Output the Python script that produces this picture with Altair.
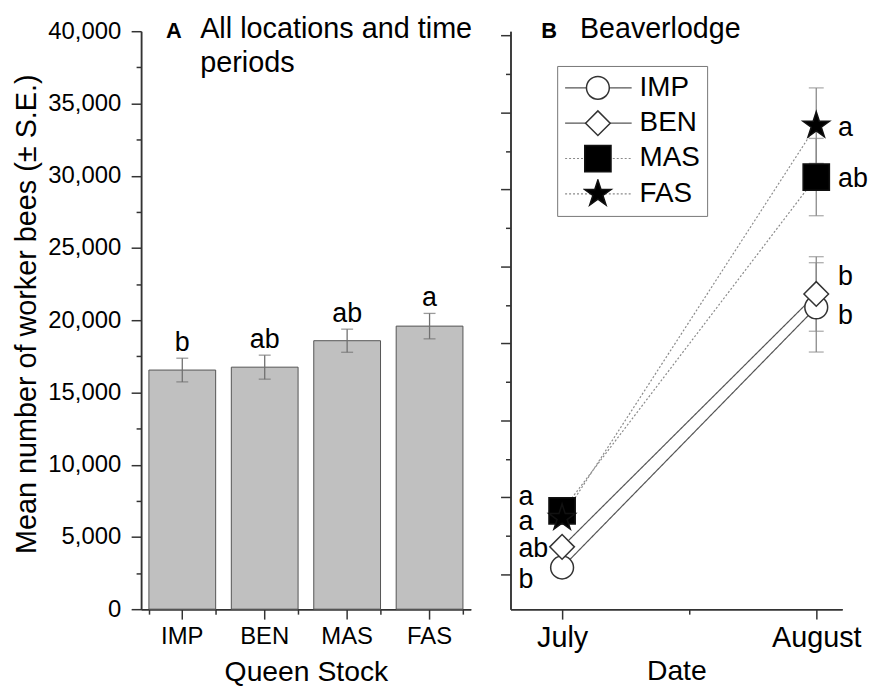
import altair as alt
import pandas as pd

FONT = "Liberation Sans"

stocks = ["IMP", "BEN", "MAS", "FAS"]

# Panel A: all locations and time periods
all_mean = [16550, 16750, 18580, 19590]
all_se = [820, 830, 800, 880]
all_letters = ["b", "ab", "ab", "a"]

# Panel B: Beaverlodge
months = ["July", "August"]
july_mean = [450, 1790, 4130, 3670]
july_se = [300, 300, 300, 300]
july_letters = ["b", "ab", "a", "a"]
aug_mean = [17340, 18210, 25800, 29140]
aug_se = [2900, 2420, 2510, 2450]
aug_letters = ["b", "b", "ab", "a"]

panel_tags = ["A", "B"]
panel_titles = [["All locations and time", "periods"], ["Beaverlodge"]]

yA_major = [0, 5000, 10000, 15000, 20000, 25000, 30000, 35000, 40000]
yA_minor = [2500, 7500, 12500, 17500, 22500, 27500, 32500, 37500]
yB_major = [0, 5000, 10000, 15000, 20000, 25000, 30000, 35000]
yB_minor = [2500, 7500, 12500, 17500, 22500, 27500, 32500]

STAR = ("M0,-1L0.2245,-0.309L0.9511,-0.309L0.3633,0.118L0.5878,0.809L0,0.382"
        "L-0.5878,0.809L-0.3633,0.118L-0.9511,-0.309L-0.2245,-0.309Z")

# ---------- data frames ----------
dfA = pd.DataFrame({"stock": stocks, "mean": all_mean, "se": all_se, "letter": all_letters})
dfA["lo"] = dfA["mean"] - dfA["se"]
dfA["hi"] = dfA["mean"] + dfA["se"]

rows = []
for i, s in enumerate(stocks):
    rows.append({"stock": s, "series": s, "order": i, "month": 1, "mean": july_mean[i],
                 "se": july_se[i], "letter": july_letters[i]})
    rows.append({"stock": s, "series": s, "order": i, "month": 2, "mean": aug_mean[i],
                 "se": aug_se[i], "letter": aug_letters[i]})
dfB = pd.DataFrame(rows)
dfB["lo"] = dfB["mean"] - dfB["se"]
dfB["hi"] = dfB["mean"] + dfB["se"]

axis_style = dict(domainColor="#333333", domainWidth=1.5, tickColor="#333333", tickWidth=1.5,
                  labelColor="black", titleColor="black", labelFont=FONT, titleFont=FONT,
                  titleFontWeight="normal", grid=False)

# ---------- Panel A ----------
sxA = alt.Scale(paddingInner=0.19, paddingOuter=0.095)
syA = alt.Scale(domain=[0, 40000], nice=False, zero=False)

bars = alt.Chart(dfA).mark_bar(color="#c0c0c0", stroke="#555555", strokeWidth=1).encode(
    x=alt.X("stock:N", sort=stocks, scale=sxA,
            axis=alt.Axis(title="Queen Stock", labelAngle=0, tickSize=10, labelFontSize=24,
                          labelPadding=6, titleFontSize=28.5, titlePadding=9, **axis_style)),
    y=alt.Y("mean:Q", scale=syA,
            axis=alt.Axis(title="Mean number of worker bees  (± S.E.)", values=yA_major, format=",.0f",
                          tickSize=10, labelFontSize=24, labelPadding=10.5, titleFontSize=29,
                          titlePadding=6, titleY=284.5, **axis_style)),
)
errA = alt.Chart(dfA).mark_rule(color="#707070", strokeWidth=1.3).encode(
    x=alt.X("stock:N", sort=stocks, scale=sxA,
            axis=alt.Axis(title=None, orient="bottom", tickBand="extent", tickSize=5, labels=False, **axis_style)),
    y=alt.Y("lo:Q", scale=syA,
            axis=alt.Axis(title=None, orient="left", values=yA_minor, tickSize=5, labels=False, **axis_style)),
    y2="hi:Q",
)
capA_hi = alt.Chart(dfA).mark_tick(color="#707070", thickness=1.3, size=12, orient="horizontal").encode(
    x=alt.X("stock:N", sort=stocks, scale=sxA, axis=None),
    y=alt.Y("hi:Q", scale=syA, axis=None),
)
capA_lo = alt.Chart(dfA).mark_tick(color="#707070", thickness=1.3, size=12, orient="horizontal").encode(
    x=alt.X("stock:N", sort=stocks, scale=sxA, axis=None),
    y=alt.Y("lo:Q", scale=syA, axis=None),
)
lettersA = alt.Chart(dfA).mark_text(font=FONT, fontSize=27, baseline="alphabetic", dy=-7, color="black").encode(
    x=alt.X("stock:N", sort=stocks, scale=sxA, axis=None),
    y=alt.Y("hi:Q", scale=syA, axis=None),
    text="letter:N",
)
tagA = alt.Chart(pd.DataFrame({"t": [panel_tags[0]]})).mark_text(
    font=FONT, fontSize=22, fontWeight="bold", align="left", baseline="alphabetic", color="black"
).encode(x=alt.value(25), y=alt.value(7), text="t:N")
titleA = alt.Chart(pd.DataFrame({"t": [0]})).mark_text(
    font=FONT, fontSize=29, align="left", baseline="alphabetic", lineHeight=34, color="black"
).encode(x=alt.value(59.5), y=alt.value(7), text=alt.value(panel_titles[0]))

panelA = alt.layer(bars, errA, capA_hi, capA_lo, lettersA, tagA, titleA).resolve_axis(
    x="independent", y="independent"
).properties(width=332, height=582)

# ---------- Panel B ----------
sxB = alt.Scale(domain=[0.797, 2.102], nice=False, zero=False)
syB = alt.Scale(domain=[-2256, 35270], nice=False, zero=False)
order_sort = alt.EncodingSortField(field="order", op="min")

line_legend = alt.Legend(title=None, orient="none", legendX=47, legendY=35, symbolType="stroke",
                         symbolSize=4489, symbolStrokeWidth=1.2, labelFont=FONT, labelFontSize=28,
                         labelColor="black", labelOffset=7, rowPadding=5.6, padding=7, clipHeight=30,
                         strokeColor="#777777", labelLimit=300)
point_legend = alt.Legend(title=None, orient="none", legendX=66, legendY=35, labelFont=FONT,
                          labelFontSize=28, labelOpacity=0, labelOffset=7, rowPadding=5.6, padding=7,
                          clipHeight=30, symbolStrokeWidth=1.5, symbolOpacity=1, labelLimit=300)

month_expr = f"datum.value == 1 ? '{months[0]}' : datum.value == 2 ? '{months[1]}' : ''"

lines = alt.Chart(dfB).mark_line(strokeWidth=1.2).encode(
    x=alt.X("month:Q", scale=sxB,
            axis=alt.Axis(title="Date", values=[1, 2], labelExpr=month_expr, tickSize=10,
                          labelFontSize=29, labelPadding=5, titleFontSize=28.5, titlePadding=4, **axis_style)),
    y=alt.Y("mean:Q", scale=syB,
            axis=alt.Axis(title=None, values=yB_major, labels=False, tickSize=10, **axis_style)),
    strokeDash=alt.StrokeDash("series:N", sort=order_sort,
                              scale=alt.Scale(range=[[1, 0], [1, 0], [2, 2], [2, 2]]), legend=line_legend),
    color=alt.Color("series:N", sort=order_sort,
                    scale=alt.Scale(range=["#555555", "#555555", "#8a8a8a", "#8a8a8a"]), legend=line_legend),
    order="month:Q",
)
errB = alt.Chart(dfB).mark_rule(color="#8a8a8a", strokeWidth=1.3).encode(
    x=alt.X("month:Q", scale=sxB,
            axis=alt.Axis(title=None, orient="bottom", values=[1.5], tickSize=5, labels=False, **axis_style)),
    y=alt.Y("lo:Q", scale=syB,
            axis=alt.Axis(title=None, orient="left", values=yB_minor, tickSize=5, labels=False, **axis_style)),
    y2="hi:Q",
)
capB_hi = alt.Chart(dfB).mark_tick(color="#8a8a8a", thickness=1.3, size=15, orient="horizontal").encode(
    x=alt.X("month:Q", scale=sxB, axis=None),
    y=alt.Y("hi:Q", scale=syB, axis=None),
)
capB_lo = alt.Chart(dfB).mark_tick(color="#8a8a8a", thickness=1.3, size=15, orient="horizontal").encode(
    x=alt.X("month:Q", scale=sxB, axis=None),
    y=alt.Y("lo:Q", scale=syB, axis=None),
)
points = alt.Chart(dfB).mark_point(filled=True, opacity=1, strokeWidth=1.5).encode(
    x=alt.X("month:Q", scale=sxB, axis=None),
    y=alt.Y("mean:Q", scale=syB, axis=None),
    shape=alt.Shape("stock:N", sort=order_sort,
                    scale=alt.Scale(range=["circle", "diamond", "square", STAR]), legend=point_legend),
    fill=alt.Fill("stock:N", sort=order_sort,
                  scale=alt.Scale(range=["white", "white", "black", "black"]), legend=point_legend),
    stroke=alt.Stroke("stock:N", sort=order_sort,
                      scale=alt.Scale(range=["#333333", "#333333", "#111111", "#111111"]), legend=point_legend),
    size=alt.Size("stock:N", sort=order_sort,
                  scale=alt.Scale(range=[529, 784, 400, 841]), legend=point_legend),
)

july_dy = {"IMP": 13, "BEN": 2, "MAS": -14, "FAS": 4}
aug_dy = {"IMP": 9, "BEN": -17, "MAS": 2, "FAS": 2}
letter_layers = []
for s in stocks:
    for m, dyv, dxv in ((1, july_dy[s], -44), (2, aug_dy[s], 22)):
        letter_layers.append(
            alt.Chart(dfB).transform_filter(
                (alt.datum.stock == s) & (alt.datum.month == m)
            ).mark_text(font=FONT, fontSize=27, baseline="middle", align="left", dx=dxv, dy=dyv,
                        color="black").encode(
                x=alt.X("month:Q", scale=sxB, axis=None),
                y=alt.Y("mean:Q", scale=syB, axis=None),
                text="letter:N",
            )
        )

tagB = alt.Chart(pd.DataFrame({"t": [panel_tags[1]]})).mark_text(
    font=FONT, fontSize=22, fontWeight="bold", align="left", baseline="alphabetic", color="black"
).encode(x=alt.value(31), y=alt.value(7), text="t:N")
titleB = alt.Chart(pd.DataFrame({"t": [0]})).mark_text(
    font=FONT, fontSize=28.8, align="left", baseline="alphabetic", color="black"
).encode(x=alt.value(70), y=alt.value(7), text=alt.value(panel_titles[1][0]))

panelB = alt.layer(lines, errB, capB_hi, capB_lo, points, *letter_layers, tagB, titleB).resolve_axis(
    x="independent", y="independent"
).properties(width=334, height=582)

chart = alt.hconcat(panelA, panelB, spacing=27).resolve_legend(
    strokeDash="independent", color="independent", stroke="independent", shape="independent",
    fill="independent", size="independent"
).properties(
    padding={"left": 5, "top": 5, "right": 0, "bottom": 0}, background="white"
).configure_view(stroke=None)

chart.save("out.html", embed_options={"renderer": "svg", "actions": False})
